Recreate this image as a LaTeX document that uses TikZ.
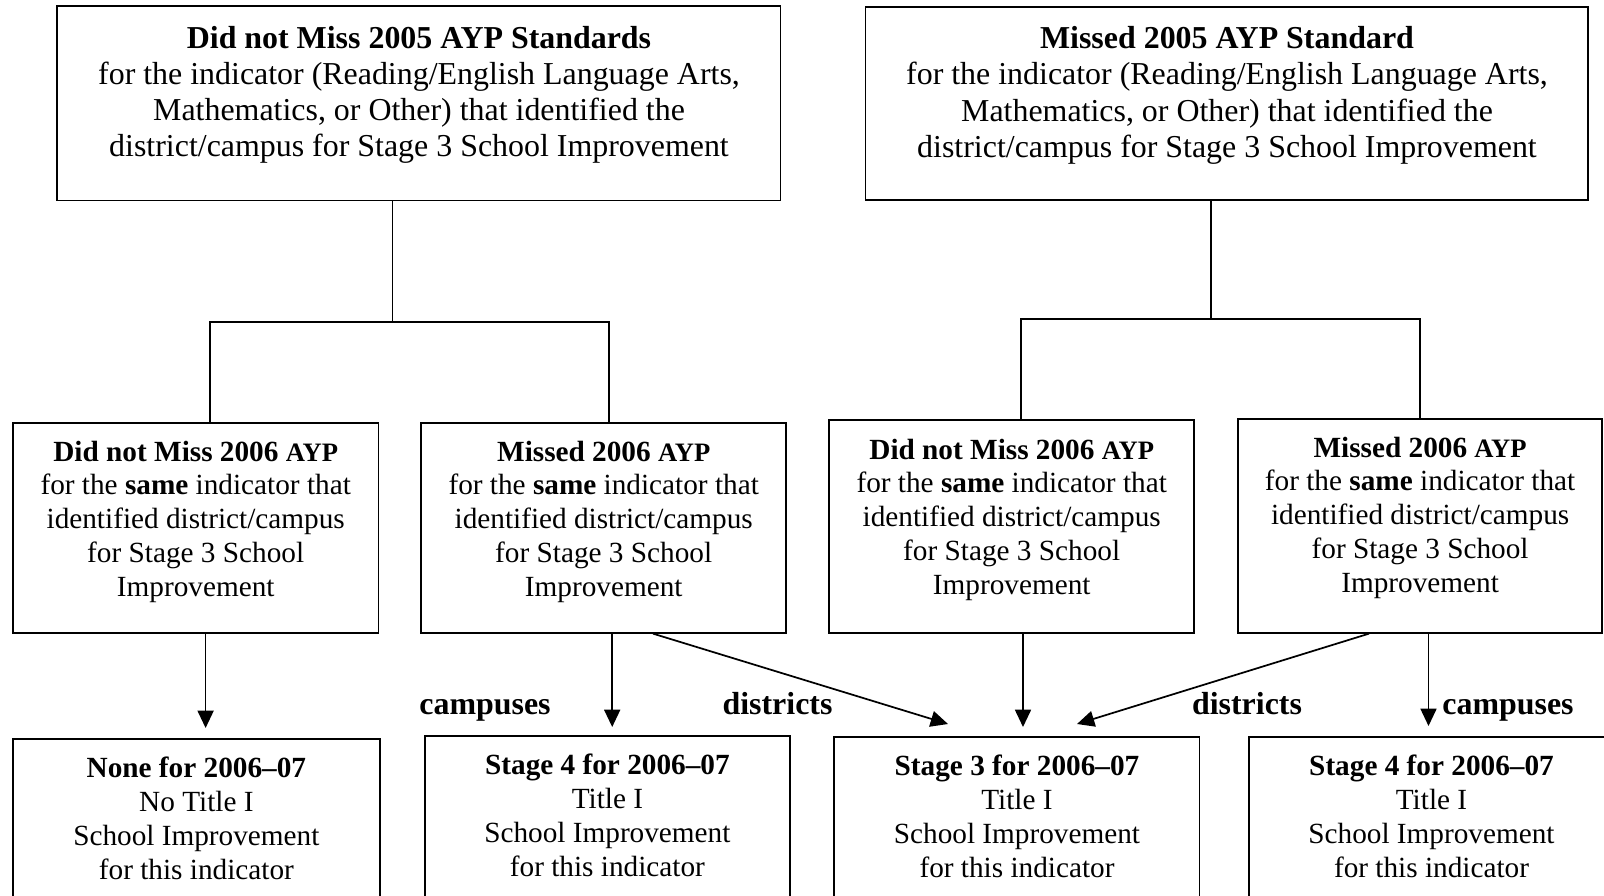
\documentclass[tikz,border=0pt]{standalone}
\usepackage{fontspec}
\setmainfont{Liberation Serif}
\usetikzlibrary{arrows.meta,fit}
\newcommand\topfont{\fontsize{12}{13.65}\selectfont}
\newcommand\midfont{\fontsize{11}{12.7}\selectfont}
\newcommand\botfont{\fontsize{11}{12.8}\selectfont}
\newcommand\ayp{{\fontsize{10}{12}\selectfont AYP}}
\tikzset{
  box/.style={draw, line width=0.7pt, inner sep=0pt},
  txt/.style={inner sep=0pt, anchor=base},
  conn/.style={line width=0.6pt},
  arr/.style={line width=0.65pt, -{Triangle[length=6.5pt,width=6pt]}},
  lbl/.style={inner sep=0pt, anchor=base, font=\fontsize{12}{14}\selectfont\bfseries}
}
\begin{document}
\begin{tikzpicture}[x=0.376pt,y=-0.376pt]
\useasboundingbox (0,0) rectangle (1604,895);
\begin{scope}
\clip (0,0) rectangle (1604,895);
% boxes
\node[box, fit={(57.3,6) (780.5,200.5)}] (tl) {};
\node[box, fit={(865.5,7.3) (1588,200)}] (tr) {};
\node[box, fit={(12.8,422.7) (378.5,632.7)}] (mb1) {};
\node[box, fit={(421.3,422.7) (786,632.7)}] (mb2) {};
\node[box, fit={(829.2,420.3) (1194.2,632.7)}] (mb3) {};
\node[box, fit={(1237.8,418.7) (1602.4,632.7)}] (mb4) {};
\node[box, fit={(12.8,739) (380,960)}] (bb1) {};
\node[box, fit={(425,735.7) (789.8,960)}] (bb2) {};
\node[box, fit={(834.4,736.7) (1199.5,960)}] (bb3) {};
\node[box, fit={(1249,736.7) (1614,960)}] (bb4) {};
% texts
\node[txt] (tlt) at (419,48) {\parbox[t]{300pt}{\centering\topfont
  \textbf{Did not Miss 2005 AYP Standards}\\
  for the indicator (Reading/English Language Arts,\\
  Mathematics, or Other) that identified the\\
  district/campus for Stage 3 School Improvement}};
\node[txt] (trt) at (1227,48.5) {\parbox[t]{300pt}{\centering\topfont
  \textbf{Missed 2005 AYP Standard}\\
  for the indicator (Reading/English Language Arts,\\
  Mathematics, or Other) that identified the\\
  district/campus for Stage 3 School Improvement}};
\node[txt] (mb1t) at (195.7,461) {\parbox[t]{170pt}{\centering\midfont
  \textbf{Did not Miss 2006 \ayp}\\
  for the \textbf{same} indicator that\\
  identified district/campus\\
  for Stage 3 School\\
  Improvement}};
\node[txt] (mb2t) at (603.7,461) {\parbox[t]{170pt}{\centering\midfont
  \textbf{Missed 2006 \ayp}\\
  for the \textbf{same} indicator that\\
  identified district/campus\\
  for Stage 3 School\\
  Improvement}};
\node[txt] (mb3t) at (1011.7,459) {\parbox[t]{170pt}{\centering\midfont
  \textbf{Did not Miss 2006 \ayp}\\
  for the \textbf{same} indicator that\\
  identified district/campus\\
  for Stage 3 School\\
  Improvement}};
\node[txt] (mb4t) at (1420.1,457) {\parbox[t]{170pt}{\centering\midfont
  \textbf{Missed 2006 \ayp}\\
  for the \textbf{same} indicator that\\
  identified district/campus\\
  for Stage 3 School\\
  Improvement}};
\node[txt] (bb1t) at (196.4,777) {\parbox[t]{170pt}{\centering\botfont
  \textbf{None for 2006--07}\\
  No Title I\\
  School Improvement\\
  for this indicator}};
\node[txt] (bb2t) at (607.4,774) {\parbox[t]{170pt}{\centering\botfont
  \textbf{Stage 4 for 2006--07}\\
  Title I\\
  School Improvement\\
  for this indicator}};
\node[txt] (bb3t) at (1017,775) {\parbox[t]{170pt}{\centering\botfont
  \textbf{Stage 3 for 2006--07}\\
  Title I\\
  School Improvement\\
  for this indicator}};
\node[txt] (bb4t) at (1431.5,775) {\parbox[t]{170pt}{\centering\botfont
  \textbf{Stage 4 for 2006--07}\\
  Title I\\
  School Improvement\\
  for this indicator}};
% labels
\node[lbl] (l1) at (485,714) {campuses};
\node[lbl] (l2) at (777.5,714) {districts};
\node[lbl] (l3) at (1247,714) {districts};
\node[lbl] (l4) at (1508,714) {campuses};
% tree connectors
\coordinate (jL) at (392.3,322);
\coordinate (jLa) at (210,322);
\coordinate (jLb) at (608.7,322);
\coordinate (jR) at (1211,319);
\coordinate (jRa) at (1020.7,319);
\coordinate (jRb) at (1419.7,319);
\draw[conn] (tl.south -| jL) -- (jL);
\draw[conn] (mb1.north -| jLa) -- (jLa) -- (jLb) -- (mb2.north -| jLb);
\draw[conn] (tr.south -| jR) -- (jR);
\draw[conn] (mb3.north -| jRa) -- (jRa) -- (jRb) -- (mb4.north -| jRb);
% arrows
\coordinate (t1) at (205.6,728);
\coordinate (t2) at (612.2,727);
\coordinate (s2) at (653,0);
\coordinate (t3) at (948,724);
\coordinate (t4) at (1023,727);
\coordinate (s5) at (1369,0);
\coordinate (t5) at (1077,724);
\coordinate (t6) at (1428.5,726);
\draw[arr] (mb1.south -| t1) -- (t1);
\draw[arr] (mb2.south -| t2) -- (t2);
\draw[arr] (mb2.south -| s2) -- (t3);
\draw[arr] (mb3.south -| t4) -- (t4);
\draw[arr] (mb4.south -| s5) -- (t5);
\draw[arr] (mb4.south -| t6) -- (t6);
\end{scope}
\end{tikzpicture}
\end{document}
